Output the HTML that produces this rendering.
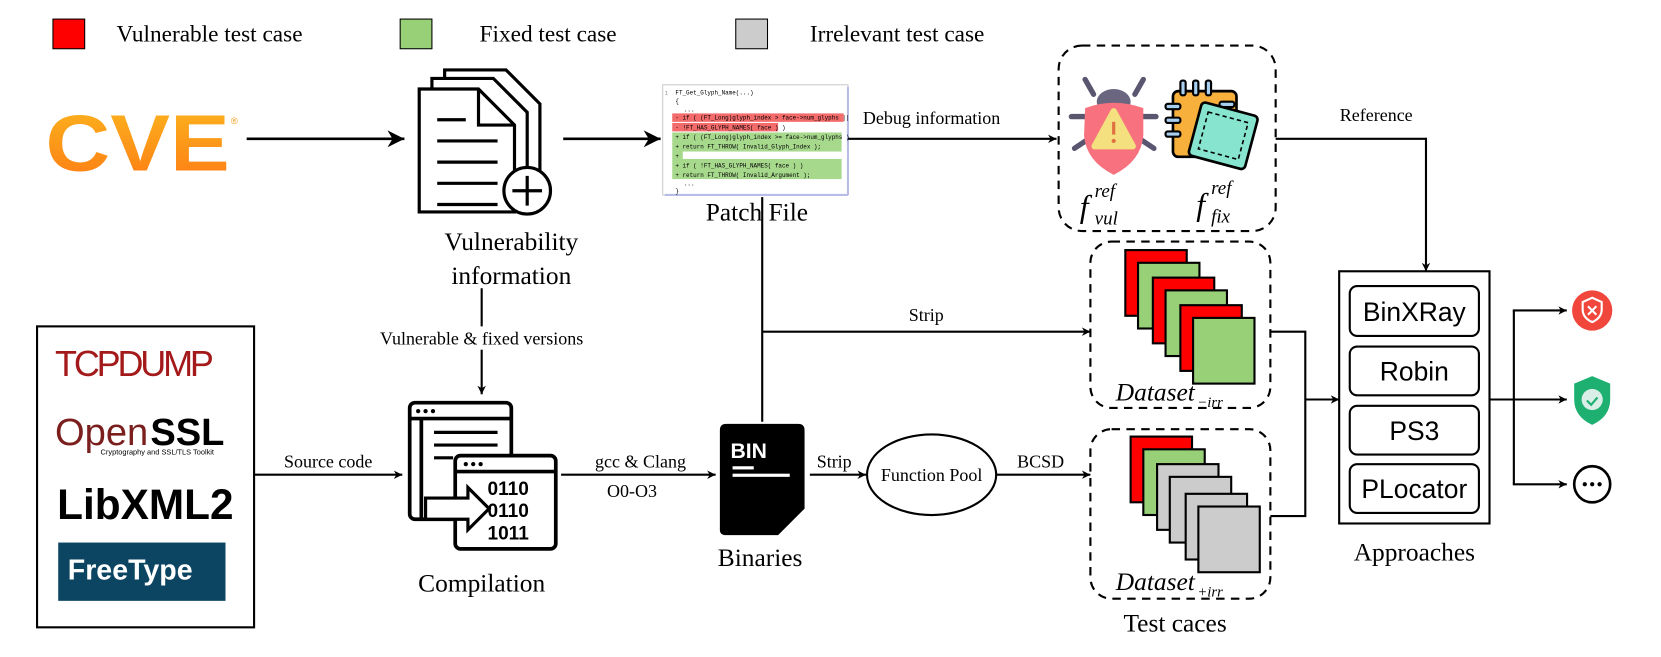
<!DOCTYPE html>
<html><head><meta charset="utf-8"><style>
html,body{margin:0;padding:0;background:#fff;}
svg{display:block;}
text{font-family:"Liberation Serif",serif;fill:#000;}
.s{font-family:"Liberation Sans",sans-serif;}
.m{font-family:"Liberation Mono",monospace;}
</style></head><body>
<svg width="1661" height="657" viewBox="0 0 1569 620" preserveAspectRatio="none" xmlns="http://www.w3.org/2000/svg">
<defs>
<marker id="a" viewBox="0 0 10 10" refX="10" refY="5" markerWidth="8" markerHeight="8" orient="auto" markerUnits="userSpaceOnUse">
<path d="M0,0 L10,5 L0,10 L3,5 z" fill="#000"/></marker>
<marker id="b" viewBox="0 0 10 10" refX="10" refY="5" markerWidth="16" markerHeight="16" orient="auto" markerUnits="userSpaceOnUse">
<path d="M0,0 L10,5 L0,10 L3,5 z" fill="#000"/></marker>
<linearGradient id="g" x1="0" y1="0" x2="0" y2="1"><stop offset="0" stop-color="#fcb71e"/><stop offset="1" stop-color="#fd7a14"/></linearGradient>
</defs>
<!-- legend -->
<rect x="50" y="18" width="30" height="28" fill="#f00" stroke="#000" stroke-width="1"/>
<text x="110" y="39" font-size="22">Vulnerable test case</text>
<rect x="378" y="18" width="30" height="28" fill="#97d077" stroke="#000" stroke-width="1"/>
<text x="453" y="39" font-size="22">Fixed test case</text>
<rect x="695" y="18" width="30" height="28" fill="#ccc" stroke="#000" stroke-width="1"/>
<text x="765" y="39" font-size="22">Irrelevant test case</text>

<!-- CVE logo -->
<text x="43" y="161" font-size="75" font-weight="bold" class="s" style="fill:url(#g)" textLength="174" lengthAdjust="spacingAndGlyphs">CVE</text>
<text x="218" y="117" font-size="9" class="s" style="fill:#f79a1c">®</text>
<line x1="233" y1="131" x2="382" y2="131" stroke="#000" stroke-width="2.5" marker-end="url(#b)"/>

<!-- docs icon -->
<g fill="#fff" stroke="#000" stroke-width="3">
<path d="M420,66 L478,66 L510,98 L510,180 L420,180 z"/>
<path d="M408,74 L466,74 L498,106 L498,188 L408,188 z"/>
<path d="M396,84 L452,84 L486,118 L486,200 L396,200 z"/>
<path d="M452,84 L452,118 L486,118" fill="none"/>
</g>
<g stroke="#000" stroke-width="3"><line x1="413" y1="113" x2="440" y2="113"/><line x1="413" y1="133" x2="470" y2="133"/><line x1="413" y1="153" x2="470" y2="153"/><line x1="413" y1="173" x2="470" y2="173"/><line x1="413" y1="193" x2="470" y2="193"/></g>
<circle cx="498" cy="180" r="22" fill="#fff" stroke="#000" stroke-width="3"/>
<path d="M498,166 V194 M484,180 H512" stroke="#000" stroke-width="3"/>
<text x="483" y="236" font-size="24" text-anchor="middle">Vulnerability</text>
<text x="483" y="268" font-size="24" text-anchor="middle">information</text>
<line x1="532" y1="131" x2="624" y2="131" stroke="#000" stroke-width="2.5" marker-end="url(#b)"/>

<!-- patch file -->
<rect x="626" y="80" width="175" height="104" fill="#fff" stroke="#ccc"/>
<line x1="628" y1="184" x2="801" y2="184" stroke="#b8bde8" stroke-width="2"/>
<line x1="801" y1="82" x2="801" y2="184" stroke="#b8bde8" stroke-width="2"/>
<g font-size="5.6">
<text x="628" y="89" class="m" font-size="5" style="fill:#777">1</text>
<text x="638" y="89" class="m">FT_Get_Glyph_Name(...)</text>
<text x="638" y="97" class="m">{</text>
<text x="646" y="105" class="m">...</text>
<rect x="635" y="107" width="162" height="8" fill="#f36b6b"/>
<text x="638" y="113" class="m">- if ( (FT_Long)glyph_index &gt; face-&gt;num_glyphs ||</text>
<rect x="635" y="116" width="100" height="8" fill="#f36b6b"/>
<text x="638" y="122" class="m">- !FT_HAS_GLYPH_NAMES( face ) )</text>
<rect x="635" y="125" width="160" height="44" fill="#a7d98d"/>
<rect x="645" y="143" width="155" height="7" fill="#fff"/>
<text x="638" y="131" class="m">+ if ( (FT_Long)glyph_index &gt;= face-&gt;num_glyphs )</text>
<text x="638" y="140" class="m">+ return FT_THROW( Invalid_Glyph_Index );</text>
<text x="638" y="149" class="m">+</text>
<text x="638" y="158" class="m">+ if ( !FT_HAS_GLYPH_NAMES( face ) )</text>
<text x="638" y="167" class="m">+ return FT_THROW( Invalid_Argument );</text>
<text x="646" y="175" class="m">...</text>
<text x="638" y="182" class="m">}</text>
</g>
<text x="715" y="208" font-size="24" text-anchor="middle">Patch File</text>
<line x1="801" y1="131" x2="998" y2="131" stroke="#000" stroke-width="2" marker-end="url(#a)"/>
<text x="880" y="117" font-size="17" text-anchor="middle">Debug information</text>
<line x1="720" y1="186" x2="720" y2="398" stroke="#000" stroke-width="2"/>
<line x1="720" y1="313" x2="1030" y2="313" stroke="#000" stroke-width="2" marker-end="url(#a)"/>
<text x="875" y="303" font-size="17" text-anchor="middle">Strip</text>

<!-- top dashed box -->
<rect x="1000" y="43" width="205" height="175" rx="22" fill="none" stroke="#000" stroke-width="2" stroke-dasharray="8,6"/>
<g>
<path d="M1025,75 l8,14 M1080,75 l-8,14 M1012,110 h14 M1078,110 h14 M1015,140 l12,-8 M1090,140 l-12,-8" stroke="#5a5670" stroke-width="5" stroke-linecap="round"/>
<ellipse cx="1052" cy="96" rx="16" ry="12" fill="#6b6680"/>
<path d="M1025,102 Q1052,92 1080,102 L1080,128 Q1078,152 1052,165 Q1026,152 1024,128 z" fill="#f7727e"/>
<path d="M1052,105 L1070,138 L1034,138 z" fill="#f4e07e" stroke="#f4e07e" stroke-width="6" stroke-linejoin="round"/>
<path d="M1052,115 V127" stroke="#e07040" stroke-width="3"/><circle cx="1052" cy="133" r="2" fill="#e07040"/>
</g>
<g>
<rect x="1108" y="86" width="60" height="62" rx="5" fill="#f7b03c" stroke="#000" stroke-width="2.5"/>
<g stroke="#000" stroke-width="2" fill="#a8cff0"><rect x="1115" y="76" width="5" height="14" rx="2"/><rect x="1127" y="76" width="5" height="14" rx="2"/><rect x="1139" y="76" width="5" height="14" rx="2"/><rect x="1101" y="98" width="14" height="5" rx="2"/><rect x="1101" y="111" width="14" height="5" rx="2"/><rect x="1101" y="124" width="14" height="5" rx="2"/><rect x="1152" y="96" width="14" height="5" rx="2"/></g>
<rect x="1128" y="102" width="55" height="52" rx="4" fill="#86e4cf" stroke="#000" stroke-width="2.5" transform="rotate(15 1155 128)"/>
<rect x="1136" y="110" width="39" height="36" fill="none" stroke="#000" stroke-width="1.5" stroke-dasharray="4,3" transform="rotate(15 1155 128)"/>
</g>
<text x="1020" y="205" font-size="30" font-style="italic">f</text>
<text x="1034" y="186" font-size="18" font-style="italic">ref</text>
<text x="1034" y="212" font-size="18" font-style="italic">vul</text>
<text x="1130" y="203" font-size="30" font-style="italic">f</text>
<text x="1144" y="183" font-size="18" font-style="italic">ref</text>
<text x="1144" y="210" font-size="18" font-style="italic">fix</text>

<line x1="1205" y1="131" x2="1347" y2="131" stroke="#000" stroke-width="2"/>
<line x1="1347" y1="130" x2="1347" y2="256" stroke="#000" stroke-width="2" marker-end="url(#a)"/>
<text x="1300" y="114" font-size="17" text-anchor="middle">Reference</text>

<!-- dataset -irr -->
<rect x="1030" y="228" width="170" height="157" rx="20" fill="none" stroke="#000" stroke-width="2" stroke-dasharray="8,6"/>
<g stroke="#000" stroke-width="2">
<rect x="1063" y="236" width="58" height="62" fill="#f00"/>
<rect x="1075" y="248" width="58" height="62" fill="#97d077"/>
<rect x="1089" y="262" width="58" height="62" fill="#f00"/>
<rect x="1101" y="274" width="58" height="62" fill="#97d077"/>
<rect x="1115" y="288" width="58" height="62" fill="#f00"/>
<rect x="1127" y="300" width="58" height="62" fill="#97d077"/>
</g>
<text x="1054" y="378" font-size="24" font-style="italic">Dataset</text>
<text x="1131" y="384" font-size="14" font-style="italic">−irr</text>

<!-- dataset +irr -->
<rect x="1030" y="405" width="170" height="160" rx="20" fill="none" stroke="#000" stroke-width="2" stroke-dasharray="8,6"/>
<g stroke="#000" stroke-width="2">
<rect x="1068" y="412" width="58" height="62" fill="#f00"/>
<rect x="1080" y="424" width="58" height="62" fill="#97d077"/>
<rect x="1093" y="438" width="58" height="62" fill="#ccc"/>
<rect x="1105" y="450" width="58" height="62" fill="#ccc"/>
<rect x="1120" y="466" width="58" height="62" fill="#ccc"/>
<rect x="1132" y="478" width="58" height="62" fill="#ccc"/>
</g>
<text x="1054" y="557" font-size="24" font-style="italic">Dataset</text>
<text x="1131" y="563" font-size="14" font-style="italic">+irr</text>
<text x="1110" y="596" font-size="24" text-anchor="middle">Test caces</text>

<path d="M1200,313 H1233 V487 H1200" fill="none" stroke="#000" stroke-width="2"/>
<line x1="1233" y1="377" x2="1265" y2="377" stroke="#000" stroke-width="2" marker-end="url(#a)"/>

<!-- approaches -->
<rect x="1265" y="256" width="142" height="238" fill="#fff" stroke="#000" stroke-width="2"/>
<g fill="#fff" stroke="#000" stroke-width="2">
<rect x="1275" y="270" width="122" height="47" rx="7"/>
<rect x="1275" y="327" width="122" height="46" rx="7"/>
<rect x="1275" y="383" width="122" height="46" rx="7"/>
<rect x="1275" y="438" width="122" height="46" rx="7"/>
</g>
<g font-size="25" text-anchor="middle">
<text x="1336" y="303" class="s">BinXRay</text>
<text x="1336" y="359" class="s">Robin</text>
<text x="1336" y="415" class="s">PS3</text>
<text x="1336" y="470" class="s">PLocator</text>
</g>
<text x="1336" y="529" font-size="24" text-anchor="middle">Approaches</text>

<path d="M1407,377 H1430 M1430,457 V293" fill="none" stroke="#000" stroke-width="2"/>
<line x1="1430" y1="377" x2="1480" y2="377" stroke="#000" stroke-width="2" marker-end="url(#a)"/>
<line x1="1429" y1="293" x2="1480" y2="293" stroke="#000" stroke-width="2" marker-end="url(#a)"/>
<line x1="1429" y1="457" x2="1480" y2="457" stroke="#000" stroke-width="2" marker-end="url(#a)"/>
<circle cx="1504" cy="293" r="19" fill="#f0463c"/>
<path d="M1504,281 l9,4 v7 q0,8 -9,12 q-9,-4 -9,-12 v-7 z" fill="none" stroke="#fff" stroke-width="2"/>
<path d="M1500,289 l8,8 M1508,289 l-8,8" stroke="#fff" stroke-width="2"/>
<path d="M1504,355 l17,7 v15 q0,16 -17,24 q-17,-8 -17,-24 v-15 z" fill="#1db070"/>
<circle cx="1504" cy="377" r="10" fill="#d8eee6"/>
<path d="M1499,378 l4,4 l6,-7" stroke="#1db070" stroke-width="2" fill="none"/>
<circle cx="1504" cy="457" r="17" fill="#fff" stroke="#000" stroke-width="2.5"/>
<circle cx="1497" cy="457" r="2" fill="#000"/><circle cx="1504" cy="457" r="2" fill="#000"/><circle cx="1511" cy="457" r="2" fill="#000"/>

<!-- vulnerable & fixed arrow -->
<line x1="455" y1="272" x2="455" y2="372" stroke="#000" stroke-width="2" marker-end="url(#a)"/>
<rect x="340" y="308" width="235" height="22" fill="#fff"/>
<text x="455" y="325" font-size="17" text-anchor="middle">Vulnerable &amp; fixed versions</text>

<!-- projects box -->
<rect x="35" y="308" width="205" height="284" fill="#fff" stroke="#000" stroke-width="2"/>
<text x="52" y="355" font-size="34" class="s" style="fill:#a41a1a;letter-spacing:-3px">TCPDUMP</text>
<text x="52" y="420" font-size="36" class="s" style="fill:#7a1e1e">Open</text>
<text x="142" y="420" font-size="36" class="s" font-weight="bold">SSL</text>
<text x="95" y="429" font-size="7" class="s">Cryptography and SSL/TLS Toolkit</text>
<text x="54" y="490" font-size="40" class="s" font-weight="bold">LibXML2</text>
<rect x="55" y="512" width="158" height="55" fill="#0b4561"/>
<text x="64" y="547" font-size="27" class="s" font-weight="bold" style="fill:#fff">FreeType</text>

<line x1="240" y1="448" x2="380" y2="448" stroke="#000" stroke-width="2" marker-end="url(#a)"/>
<text x="310" y="441" font-size="17" text-anchor="middle">Source code</text>

<!-- compilation icon -->
<g fill="#fff" stroke="#000" stroke-width="3.5">
<rect x="387" y="380" width="96" height="110" rx="5"/>
<line x1="387" y1="395" x2="483" y2="395"/>
<line x1="398" y1="395" x2="398" y2="490"/>
<rect x="430" y="430" width="95" height="88" rx="5"/>
<line x1="430" y1="445" x2="525" y2="445"/>
</g>
<g fill="#000"><circle cx="395" cy="388" r="2"/><circle cx="402" cy="388" r="2"/><circle cx="409" cy="388" r="2"/><circle cx="440" cy="438" r="2"/><circle cx="447" cy="438" r="2"/><circle cx="454" cy="438" r="2"/></g>
<g stroke="#000" stroke-width="3"><line x1="410" y1="408" x2="470" y2="408"/><line x1="410" y1="420" x2="470" y2="420"/><line x1="410" y1="432" x2="428" y2="432"/></g>
<text x="480" y="467" font-size="18" class="s" font-weight="bold" text-anchor="middle">0110</text>
<text x="480" y="488" font-size="18" class="s" font-weight="bold" text-anchor="middle">0110</text>
<text x="480" y="509" font-size="18" class="s" font-weight="bold" text-anchor="middle">1011</text>
<path d="M402,470 H442 V460 L462,480 L442,500 V490 H402 z" fill="#fff" stroke="#000" stroke-width="3"/>
<text x="455" y="558" font-size="24" text-anchor="middle">Compilation</text>

<line x1="530" y1="448" x2="676" y2="448" stroke="#000" stroke-width="2" marker-end="url(#a)"/>
<text x="605" y="441" font-size="17" text-anchor="middle">gcc &amp; Clang</text>
<text x="597" y="469" font-size="17" text-anchor="middle">O0-O3</text>

<!-- BIN -->
<path d="M686,400 Q680,400 680,406 V500 Q680,505 686,505 H735 L760,480 V406 Q760,400 754,400 z" fill="#000"/>
<path d="M737,505 L760,482 L760,505 z" fill="#fff"/>
<text x="690" y="432" font-size="20" class="s" font-weight="bold" style="fill:#fff">BIN</text>
<rect x="692" y="440" width="20" height="3" fill="#fff"/><rect x="692" y="447" width="54" height="3" fill="#fff"/>
<text x="718" y="534" font-size="24" text-anchor="middle">Binaries</text>

<line x1="765" y1="448" x2="818" y2="448" stroke="#000" stroke-width="2" marker-end="url(#a)"/>
<text x="788" y="441" font-size="17" text-anchor="middle">Strip</text>
<ellipse cx="880" cy="448" rx="61" ry="38" fill="#fff" stroke="#000" stroke-width="2"/>
<text x="880" y="454" font-size="17" text-anchor="middle">Function Pool</text>
<line x1="941" y1="448" x2="1030" y2="448" stroke="#000" stroke-width="2" marker-end="url(#a)"/>
<text x="983" y="441" font-size="17" text-anchor="middle">BCSD</text>
</svg>
</body></html>
